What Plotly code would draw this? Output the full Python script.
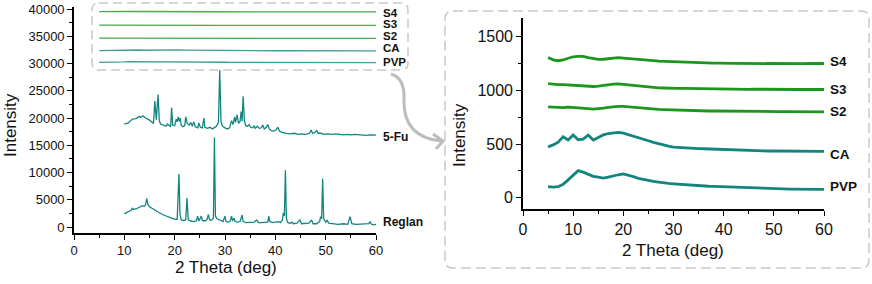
import plotly.graph_objects as go

W, H = 872, 284

# ---------------- data ----------------
fu_theta = [10.0, 10.8, 11.6, 12.3, 13.0, 13.3, 13.7, 14.2, 14.9, 15.5, 15.8, 16.05, 16.35, 16.7, 16.95,
            17.2, 17.8, 18.3, 18.6, 19.0, 19.2, 19.4, 19.6, 20.0, 20.3, 20.5, 20.7, 20.9, 21.1, 21.3,
            21.6, 22.0, 22.2, 22.5, 22.9, 23.2, 23.5, 23.8, 24.1, 24.6, 24.8, 25.1, 25.5, 25.8, 26.0,
            26.5, 27.0, 27.5, 27.9, 28.3, 28.7, 28.95, 29.2, 29.5, 30.0, 30.5, 30.9, 31.3, 31.6, 31.9,
            32.1, 32.4, 32.7, 33.0, 33.2, 33.4, 33.6, 33.85, 34.1, 34.5, 34.8, 35.1, 35.5, 35.8, 36.0,
            36.4, 36.8, 37.2, 37.5, 37.8, 38.2, 38.5, 38.8, 39.2, 39.6, 40.1, 40.5, 40.8, 41.2, 41.6,
            42.2, 43.0, 43.8, 44.5, 45.3, 46.0, 46.8, 47.1, 47.4, 47.8, 48.2, 48.5, 49.0, 49.8, 50.5,
            51.3, 52.0, 52.8, 53.5, 54.3, 55.0, 55.8, 56.5, 57.3, 58.0, 58.8, 59.5, 60.0]
fu_intensity = [18900, 19100, 19800, 19900, 20300, 20100, 20400, 20000, 19700, 19300, 19000, 23100, 19700, 24300, 19500,
                18900, 18700, 18500, 18900, 18500, 18400, 21900, 18700, 18600, 19800, 19300, 20200, 19400, 20000, 18700,
                18400, 18600, 20200, 19000, 18700, 19200, 18500, 19300, 18400, 18200, 19100, 18300, 18200, 20000, 18300,
                18100, 18300, 18000, 18300, 18500, 19200, 28800, 19400, 18500, 18200, 18000, 18200, 19500, 18800, 20200,
                19200, 20600, 19000, 19400, 21200, 19400, 24000, 19500, 18600, 18500, 18800, 18300, 18200, 18600, 18100,
                18500, 18100, 18200, 18700, 18000, 18300, 18800, 18000, 17700, 17600, 17800, 18300, 17600, 17400, 17300,
                17200, 17100, 17200, 17000, 17100, 17000, 17200, 17800, 17200, 17300, 17700, 17200, 17200, 17000, 17100,
                17000, 17100, 17000, 16900, 17000, 16900, 17000, 16900, 16900, 16800, 16900, 16800, 16850]

reglan_theta = [10.0, 10.8, 11.4, 11.6, 11.8, 12.5, 13.2, 13.6, 13.9, 14.2, 14.45, 14.7, 15.0, 15.8, 16.8,
                17.8, 18.8, 19.8, 20.5, 20.85, 21.05, 21.3, 21.8, 22.2, 22.45, 22.7, 23.2, 23.8, 24.3, 24.55,
                24.8, 25.1, 25.3, 25.5, 26.0, 26.4, 26.7, 26.9, 27.2, 27.5, 27.7, 27.9, 28.1, 28.4, 28.8,
                29.2, 29.6, 30.0, 30.2, 30.6, 31.0, 31.3, 31.5, 31.8, 32.0, 32.5, 33.0, 33.4, 33.6, 34.2,
                35.0, 35.8, 36.3, 36.6, 37.2, 38.0, 38.5, 38.7, 38.9, 39.4, 40.0, 40.6, 41.0, 41.4, 41.6,
                41.8, 42.0, 42.2, 42.5, 43.0, 43.3, 43.6, 44.3, 44.9, 45.2, 46.0, 46.7, 47.2, 47.5, 48.2,
                48.8, 49.0, 49.2, 49.4, 49.6, 50.0, 50.3, 50.6, 51.5, 52.5, 53.5, 54.4, 54.85, 55.2, 56.0,
                57.0, 58.0, 58.6, 58.8, 59.1, 59.6, 60.0]
reglan_intensity = [2400, 2800, 3100, 3500, 3200, 3400, 3700, 3900, 3800, 4000, 5200, 4100, 3700, 3200, 2700,
                    2200, 1800, 1500, 1400, 9700, 2300, 1300, 1200, 1300, 5300, 1300, 1100, 1000, 1100, 2000,
                    1100, 1500, 2000, 1200, 1100, 1300, 2300, 1400, 1200, 1400, 1600, 16400, 2000, 1500, 1300,
                    1100, 1000, 2000, 1000, 900, 1000, 2000, 1100, 1600, 1000, 900, 1000, 2200, 1000, 800,
                    800, 900, 1300, 800, 800, 800, 900, 2000, 1000, 800, 900, 1000, 800, 1300, 2600,
                    2000, 10400, 1500, 800, 700, 900, 600, 700, 1300, 600, 600, 700, 1300, 600, 600,
                    1000, 1900, 1500, 8900, 1500, 900, 1200, 700, 600, 500, 600, 500, 1900, 600, 500,
                    500, 500, 600, 1000, 500, 400, 500]

amorph_theta = [5, 6, 7, 8, 9, 10, 11, 12, 13, 14, 15, 16, 17, 18, 19, 20, 21, 22, 23, 24,
                25, 26, 27, 28, 29, 30, 31, 32, 33, 34, 35, 36, 37, 38, 39, 40, 41, 42, 43, 44,
                45, 46, 47, 48, 49, 50, 51, 52, 53, 54, 55, 56, 57, 58, 59, 60]
s4_intensity = [1306, 1284, 1276, 1283, 1299, 1313, 1317, 1316, 1306, 1297, 1289, 1290, 1294, 1303, 1305, 1301, 1298, 1293, 1289, 1285,
                1280, 1277, 1273, 1271, 1267, 1266, 1263, 1262, 1259, 1258, 1257, 1255, 1254, 1253, 1254, 1251, 1252, 1251, 1252, 1250,
                1251, 1250, 1251, 1249, 1251, 1250, 1249, 1250, 1251, 1249, 1250, 1249, 1250, 1249, 1251, 1250]
s3_intensity = [1063, 1055, 1053, 1054, 1050, 1047, 1049, 1044, 1039, 1036, 1040, 1047, 1055, 1058, 1061, 1056, 1053, 1048, 1041, 1033,
                1028, 1027, 1024, 1022, 1023, 1020, 1019, 1018, 1017, 1016, 1016, 1015, 1013, 1014, 1013, 1012, 1013, 1011, 1012, 1011,
                1010, 1011, 1010, 1010, 1009, 1010, 1009, 1009, 1008, 1009, 1008, 1009, 1008, 1007, 1009, 1008]
s2_intensity = [846, 843, 841, 840, 843, 838, 836, 831, 829, 826, 828, 834, 841, 848, 851, 850, 845, 842, 837, 832,
                828, 824, 822, 820, 818, 816, 815, 813, 812, 811, 810, 809, 808, 808, 807, 807, 806, 806, 805, 805,
                805, 804, 804, 803, 803, 803, 802, 802, 802, 802, 801, 801, 801, 800, 801, 800]
ca_intensity = [474, 492, 518, 568, 538, 584, 540, 546, 584, 537, 562, 585, 598, 606, 608, 601, 588, 574, 560, 545,
                531, 515, 501, 489, 480, 472, 468, 465, 462, 460, 458, 456, 454, 451, 448, 446, 444, 442, 441, 440,
                439, 438, 437, 436, 435, 435, 434, 434, 433, 433, 432, 432, 432, 431, 432, 431]
pvp_intensity = [104, 99, 103, 126, 166, 208, 252, 238, 219, 199, 191, 183, 193, 206, 214, 222, 211, 196, 181, 170,
                 162, 152, 146, 138, 134, 130, 126, 121, 116, 113, 110, 109, 107, 105, 103, 100, 98, 97, 96, 94,
                 92, 90, 88, 86, 85, 84, 83, 82, 81, 80, 80, 79, 79, 78, 78, 78]

amorph_series = [
    ("S4", s4_intensity, "green"),
    ("S3", s3_intensity, "green"),
    ("S2", s2_intensity, "green"),
    ("CA", ca_intensity, "teal"),
    ("PVP", pvp_intensity, "teal"),
]
# vertical offsets used for the stacked copies in the left panel
inset_offsets = {"S4": 38230, "S3": 35990, "S2": 33800, "CA": 31900, "PVP": 30100}

left_y_ticks = [0, 5000, 10000, 15000, 20000, 25000, 30000, 35000, 40000]
right_y_ticks = [0, 500, 1000, 1500]
x_ticks = [0, 10, 20, 30, 40, 50, 60]

# ---------------- style ----------------
COL = {"green": "#1c961c", "teal": "#13857f"}
FONT = "Liberation Sans, Arial, sans-serif"
BOX = "#c9c9c9"


def px(x, y):
    return x / W, 1 - y / H


fig = go.Figure()

fig.add_trace(go.Scatter(x=fu_theta, y=fu_intensity, mode="lines",
                         line=dict(color=COL["teal"], width=1.3), xaxis="x", yaxis="y"))
fig.add_trace(go.Scatter(x=reglan_theta, y=reglan_intensity, mode="lines",
                         line=dict(color=COL["teal"], width=1.3), xaxis="x", yaxis="y"))
for name, vals, c in amorph_series:
    off = inset_offsets[name]
    fig.add_trace(go.Scatter(x=amorph_theta, y=[v + off for v in vals], mode="lines",
                             line=dict(color=COL[c], width=1.3), opacity=0.8,
                             xaxis="x", yaxis="y"))
for name, vals, c in amorph_series:
    fig.add_trace(go.Scatter(x=amorph_theta, y=vals, mode="lines",
                             line=dict(color=COL[c], width=2.8), xaxis="x2", yaxis="y2"))

axis_common = dict(showline=True, linecolor="black", linewidth=1.6, ticks="outside",
                   tickcolor="black", tickwidth=1.4, ticklen=5, showgrid=False, zeroline=False,
                   mirror=False, automargin=False)
minor_common = dict(ticklen=3, tickcolor="black", tickwidth=1.2)

x0, _ = px(74, 0)
x1, _ = px(376, 0)
_, yb = px(0, 233)
_, yt = px(0, 7)
x0r, _ = px(523, 0)
x1r, _ = px(824, 0)
_, ybr = px(0, 209)
_, ytr = px(0, 18)

fig.update_layout(
    width=W, height=H, margin=dict(l=0, r=0, t=0, b=0, autoexpand=False),
    paper_bgcolor="white", plot_bgcolor="white", showlegend=False,
    font=dict(family=FONT, color="#111"),
    xaxis=dict(domain=[x0, x1], range=[0, 60], tickvals=x_ticks,
               ticktext=[str(v) for v in x_ticks],
               minor=dict(tickvals=[5, 15, 25, 35, 45, 55], **minor_common),
               tickfont=dict(size=13), anchor="y", **axis_common),
    yaxis=dict(domain=[yb, yt], range=[-1100, 40370],
               tickvals=left_y_ticks, ticktext=[str(v) for v in left_y_ticks],
               minor=dict(tickvals=[2500, 7500, 12500, 17500, 22500, 27500, 32500, 37500], **minor_common),
               tickfont=dict(size=13), anchor="x", **axis_common),
    xaxis2=dict(domain=[x0r, x1r], range=[0, 60], tickvals=x_ticks,
                ticktext=[str(v) for v in x_ticks],
                minor=dict(tickvals=[5, 15, 25, 35, 45, 55], **minor_common),
                tickfont=dict(size=16), anchor="y2", **axis_common),
    yaxis2=dict(domain=[ybr, ytr], range=[-105, 1674], tickvals=right_y_ticks,
                ticktext=[str(v) for v in right_y_ticks],
                minor=dict(tickvals=[250, 750, 1250], **minor_common),
                tickfont=dict(size=16), anchor="x2", **axis_common),
)


def rounded_rect(xa, ya, xb, yb_, r):
    def p(x, y):
        a, b = px(x, y)
        return f"{a:.5f},{b:.5f}"
    return (f"M {p(xa + r, ya)} L {p(xb - r, ya)} Q {p(xb, ya)} {p(xb, ya + r)} "
            f"L {p(xb, yb_ - r)} Q {p(xb, yb_)} {p(xb - r, yb_)} "
            f"L {p(xa + r, yb_)} Q {p(xa, yb_)} {p(xa, yb_ - r)} "
            f"L {p(xa, ya + r)} Q {p(xa, ya)} {p(xa + r, ya)} Z")


def pth(cmds):
    out = []
    for c in cmds:
        if isinstance(c, str):
            out.append(c)
        else:
            a, b = px(*c)
            out.append(f"{a:.5f},{b:.5f}")
    return " ".join(out)


shapes = [
    dict(type="path", xref="paper", yref="paper", path=rounded_rect(92, 3, 408, 70, 7),
         line=dict(color=BOX, width=1.5, dash="9px,5px"), layer="below"),
    dict(type="path", xref="paper", yref="paper", path=rounded_rect(445, 11, 869, 268, 8),
         line=dict(color=BOX, width=1.5, dash="10px,5px"), layer="below"),
    dict(type="path", xref="paper", yref="paper",
         path=pth(["M", (391, 74), "Q", (405, 78), (404, 100), "Q", (403, 137), (441, 141)]),
         line=dict(color="#bdbdbd", width=3)),
    dict(type="path", xref="paper", yref="paper",
         path=pth(["M", (433, 134), "L", (443, 141), "L", (436, 149)]),
         line=dict(color="#bdbdbd", width=3)),
]
fig.update_layout(shapes=shapes)

annotations = []


def label(text, x, y, size, bold=True, angle=0, xanchor="left"):
    a, b = px(x, y)
    annotations.append(dict(text=f"<b>{text}</b>" if bold else text, x=a, y=b, xref="paper", yref="paper",
                            showarrow=False, xanchor=xanchor, yanchor="middle", textangle=angle,
                            font=dict(size=size, family=FONT, color="#111")))


for t, y in [("S4", 12.5), ("S3", 24.5), ("S2", 36), ("CA", 48), ("PVP", 62), ("5-Fu", 137), ("Reglan", 222)]:
    label(t, 381, y, 11.5 if t not in ("5-Fu", "Reglan") else 12)
for t, y in [("S4", 62), ("S3", 89), ("S2", 112), ("CA", 154), ("PVP", 186)]:
    label(t, 828, y, 13.5)

label("2 Theta (deg)", 226, 267, 17, bold=False, xanchor="center")
label("2 Theta (deg)", 673, 250, 17, bold=False, xanchor="center")
label("Intensity", 11, 125, 17, bold=False, angle=-90, xanchor="center")
label("Intensity", 460, 135, 17, bold=False, angle=-90, xanchor="center")

fig.update_layout(annotations=annotations)

fig.write_html("out.html", config={"displayModeBar": False},
               post_script="document.body.style.margin='0';document.body.style.overflow='hidden';")
